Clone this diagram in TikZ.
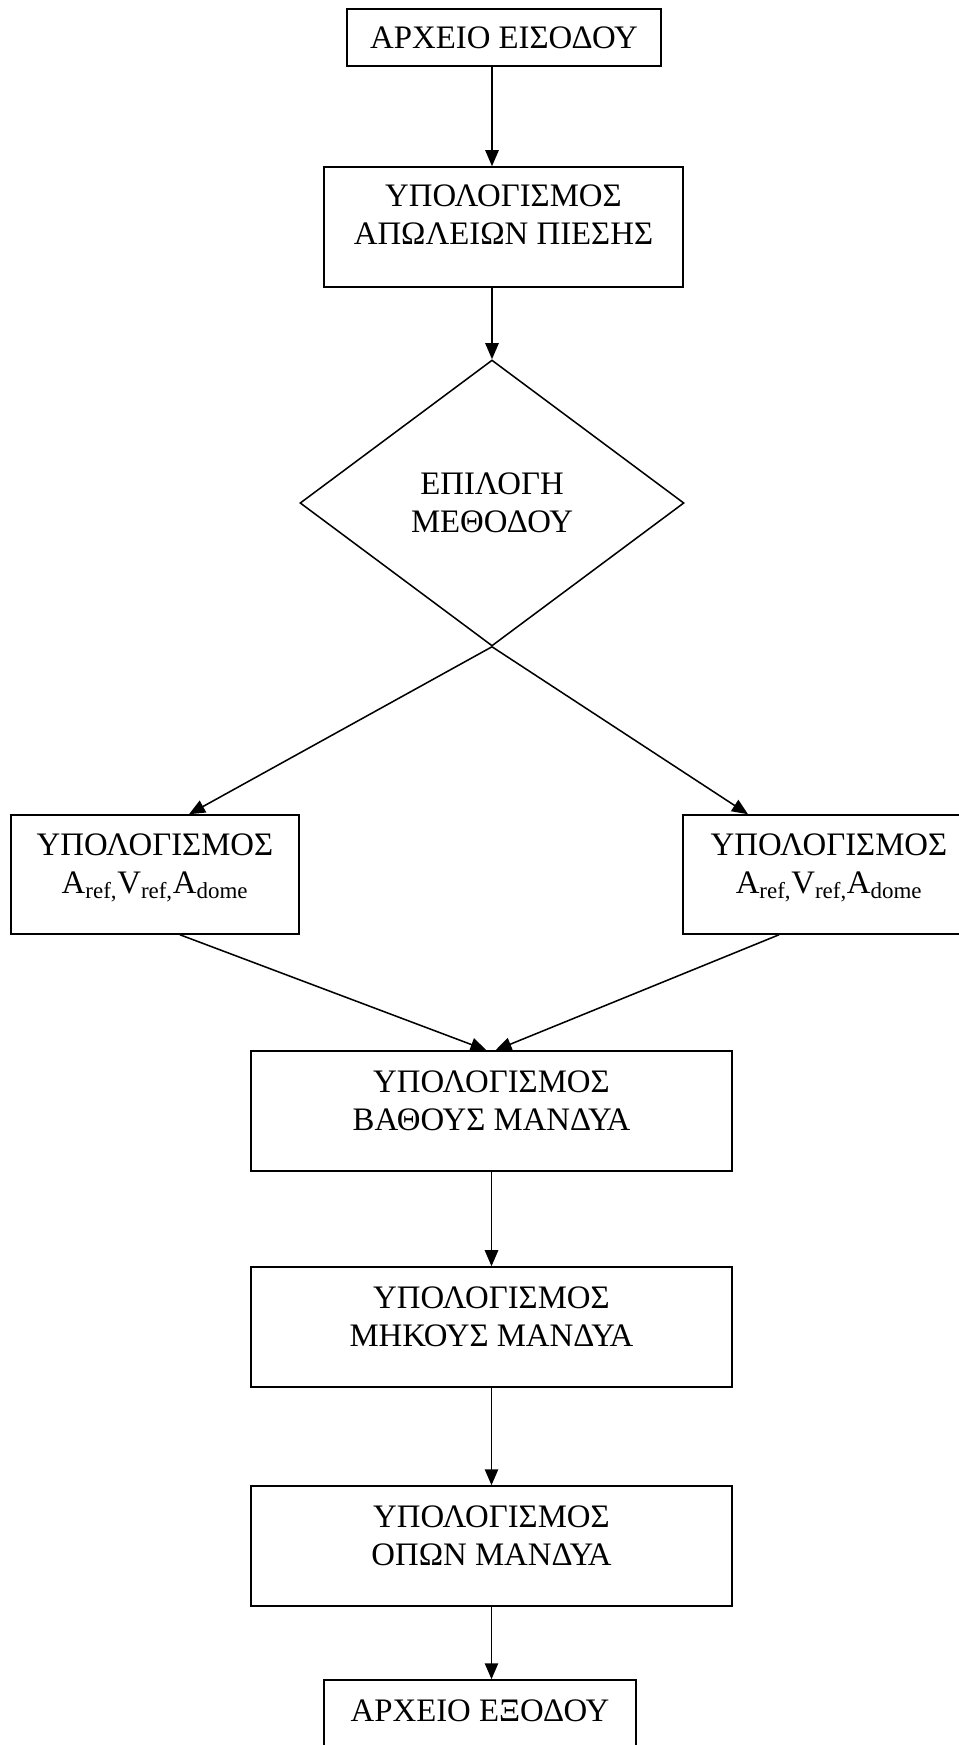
\documentclass[tikz,border=0pt]{standalone}
\usepackage{fontspec}
\setmainfont{Liberation Serif}
\usetikzlibrary{shapes.geometric,arrows.meta,calc}
\begin{document}
\begin{tikzpicture}[x=0.75pt,y=-0.75pt,
  box/.style={draw,line width=1.15pt,rectangle,inner sep=0pt},
  txt/.style={align=center,inner sep=0pt,font=\fontsize{24.6}{28.5}\selectfont},
  arr/.style={line width=1.15pt,-{Triangle[length=12pt,width=10pt]}}]
\useasboundingbox (0,0) rectangle (959,1745);
\clip (0,0) rectangle (959,1745);
% boxes
\node[box,minimum width=314*0.75pt,minimum height=57*0.75pt] (in) at (504,37.5) {};
\node[txt] (intx) at (504,37.5) {ΑΡΧΕΙΟ ΕΙΣΟΔΟΥ};
\node[box,minimum width=359*0.75pt,minimum height=120*0.75pt] (b2) at (503.5,227) {};
\node[txt] (b2t) at (503.5,215) {ΥΠΟΛΟΓΙΣΜΟΣ\\ΑΠΩΛΕΙΩΝ ΠΙΕΣΗΣ};
\node[draw,line width=1.15pt,diamond,inner sep=0pt,aspect=1.343,minimum width=384*0.75pt,minimum height=286*0.75pt] (d) at (492,503) {};
\node[txt] (dt) at (492,503) {ΕΠΙΛΟΓΗ\\ΜΕΘΟΔΟΥ};
\node[box,minimum width=288*0.75pt,minimum height=119*0.75pt] (L) at (155,874.5) {};
\node[txt] (Lt) at (155,868) {ΥΠΟΛΟΓΙΣΜΟΣ\\A\textsubscript{ref,}V\textsubscript{ref,}A\textsubscript{dome}};
\node[box,minimum width=288*0.75pt,minimum height=119*0.75pt] (R) at (827,874.5) {};
\node[txt] (Rt) at (829,868) {ΥΠΟΛΟΓΙΣΜΟΣ\\A\textsubscript{ref,}V\textsubscript{ref,}A\textsubscript{dome}};
\node[box,minimum width=481*0.75pt,minimum height=120*0.75pt] (B) at (491.5,1111) {};
\node[txt] (Bt) at (491.5,1101) {ΥΠΟΛΟΓΙΣΜΟΣ\\ΒΑΘΟΥΣ ΜΑΝΔΥΑ};
\node[box,minimum width=481*0.75pt,minimum height=120*0.75pt] (M) at (491.5,1327) {};
\node[txt] (Mt) at (491.5,1317) {ΥΠΟΛΟΓΙΣΜΟΣ\\ΜΗΚΟΥΣ ΜΑΝΔΥΑ};
\node[box,minimum width=481*0.75pt,minimum height=120*0.75pt] (O) at (491.5,1546) {};
\node[txt] (Ot) at (491.5,1536) {ΥΠΟΛΟΓΙΣΜΟΣ\\ΟΠΩΝ ΜΑΝΔΥΑ};
\node[box,minimum width=312*0.75pt,minimum height=120*0.75pt] (out) at (480,1740) {};
\node[txt] (outt) at (480,1711) {ΑΡΧΕΙΟ ΕΞΟΔΟΥ};
% connectors
\draw[arr] (in.south -| d.north) -- (b2.north -| d.north);
\draw[arr] (b2.south -| d.north) -- (d.north);
\draw[arr] (d.south) -- ($(L.north)+(34,0)$);
\draw[arr] (d.south) -- ($(R.north)+(-79,0)$);
\draw[arr] ($(L.south)+(25,0)$) -- ($(B.north)+(-5,0)$);
\draw[arr] ($(R.south)+(-48,0)$) -- ($(B.north)+(4,0)$);
\draw[arr] (B.south) -- (M.north);
\draw[arr] (M.south) -- (O.north);
\draw[arr] (O.south) -- (out.north -| O.south);
\end{tikzpicture}
\end{document}
